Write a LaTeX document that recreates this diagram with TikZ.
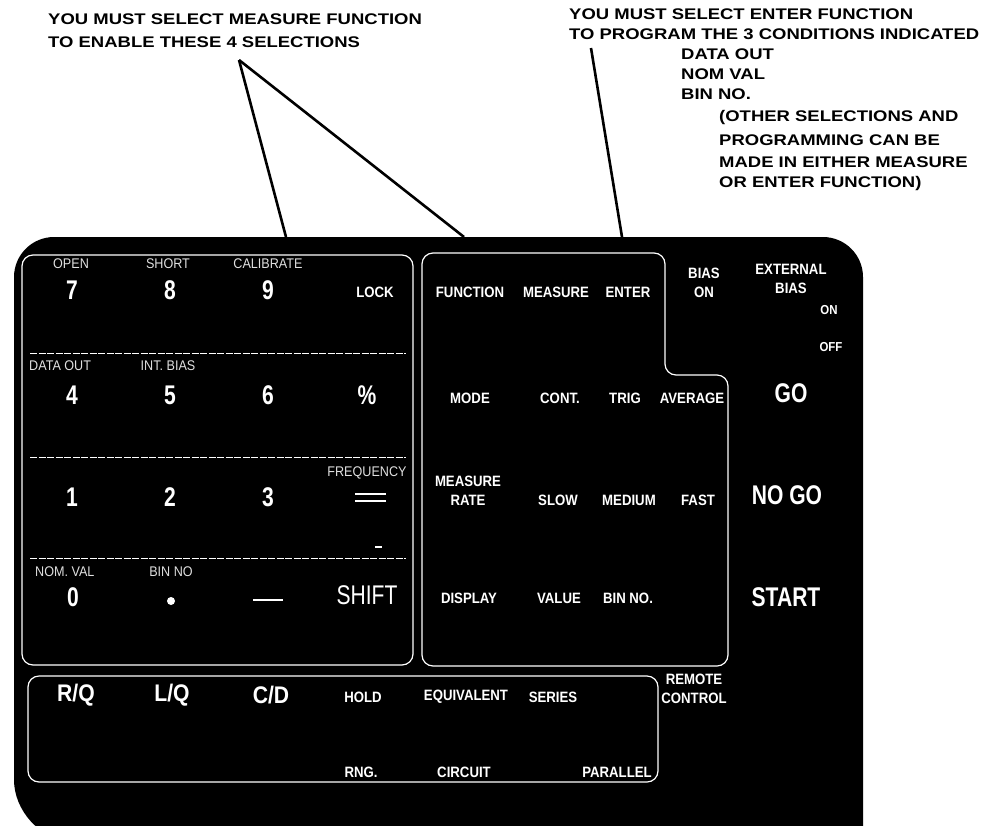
\documentclass[tikz,border=0pt]{standalone}
\usepackage{fontspec}
\setmainfont{Liberation Sans}
\newfontfamily\annfont[FakeStretch=1.2]{Liberation Sans}
\newfontfamily\cond[FakeStretch=0.88]{Liberation Sans}
\newfontfamily\condd[FakeStretch=0.78]{Liberation Sans}
\newfontfamily\condt[FakeStretch=0.9]{Liberation Sans}
\begin{document}
\begin{tikzpicture}[x=1pt,y=-1pt,
  ann/.style={font=\annfont\bfseries\fontsize{15.4}{18}\selectfont, anchor=west, inner sep=0},
  lbl/.style={text=white, font=\cond\bfseries\fontsize{15}{19}\selectfont, inner sep=0, align=center},
  sml/.style={text=white, font=\cond\bfseries\fontsize{13}{15}\selectfont, inner sep=0},
  big/.style={text=white, font=\condd\bfseries\fontsize{27}{28}\selectfont, inner sep=0},
  mid/.style={text=white, font=\cond\bfseries\fontsize{24}{26}\selectfont, inner sep=0},
  huge/.style={text=white, font=\condd\bfseries\fontsize{27}{28}\selectfont, inner sep=0},
  tiny/.style={text=white!88!black, font=\condt\fontsize{14}{15}\selectfont, inner sep=0},
  frame/.style={draw=white, line width=1.2pt, rounded corners=11},
  sep/.style={draw=white, line width=0.8pt, dash pattern=on 7pt off 1.5pt},
  pointer/.style={draw=black, line width=2.6pt}]
\useasboundingbox (0,0) rectangle (990,825);
\fill[white] (0,0) rectangle (990,825);
% black panel
\begin{scope}
\clip (0,0) rectangle (990,825);
\fill[black] (14,277) .. controls (14,255) and (32,237) .. (54,237) -- (823,237)
  .. controls (845,237) and (863,255) .. (863,277) -- (863,840) -- (70,840)
  .. controls (40,840) and (14,810) .. (14,780) -- cycle;
\end{scope}
% annotations
\node[ann] (a1) at (48,19) {YOU MUST SELECT MEASURE FUNCTION};
\node[ann] (a2) at (48,42) {TO ENABLE THESE 4 SELECTIONS};
\node[ann] (b1) at (569,14) {YOU MUST SELECT ENTER FUNCTION};
\node[ann] (b2) at (569,34) {TO PROGRAM THE 3 CONDITIONS INDICATED};
\node[ann] (b3) at (681,54) {DATA OUT};
\node[ann] (b4) at (681,74) {NOM VAL};
\node[ann] (b5) at (681,94) {BIN NO.};
\node[ann] (b6) at (719,118) {(OTHER SELECTIONS AND};
\node[ann] (b7) at (719,140) {PROGRAMMING CAN BE};
\node[ann] (b8) at (719,162) {MADE IN EITHER MEASURE};
\node[ann] (b9) at (719,184) {OR ENTER FUNCTION)};
\coordinate (apex) at (239,60);
\coordinate (keyTop) at (286,237);
\coordinate (funTop) at (464,237);
\coordinate (bstart) at (591,48);
\coordinate (enterTop) at (622,237);
\draw[pointer] (apex) -- (keyTop);
\draw[pointer] (apex) -- (funTop);
\draw[pointer] (bstart) -- (enterTop);
% frames
\draw[frame] (200,255) -- (413,255) -- (413,665) -- (22,665) -- (22,255) -- cycle;
\draw[frame] (500,253) -- (665,253) -- (665,375) -- (728,375) -- (728,666) -- (422,666) -- (422,253) -- cycle;
\draw[frame] (300,676) -- (658,676) -- (658,782) -- (28,782) -- (28,676) -- cycle;
\draw[sep] (30,353) -- (406,353);
\draw[sep] (30,457) -- (406,457);
\draw[sep] (30,558) -- (406,558);
% keypad
\node[tiny] (open) at (71,264) {OPEN};
\node[tiny] (short) at (168,264) {SHORT};
\node[tiny] (calib) at (268,264) {CALIBRATE};
\node[big] (k7) at (72,290) {7};
\node[big] (k8) at (170,290) {8};
\node[big] (k9) at (268,290) {9};
\node[lbl] (lock) at (375,292) {LOCK};
\node[tiny,anchor=west] (dout) at (29,366) {DATA OUT};
\node[tiny] (ibias) at (168,366) {INT. BIAS};
\node[big] (k4) at (72,395) {4};
\node[big] (k5) at (170,395) {5};
\node[big] (k6) at (268,395) {6};
\node[big] (kp) at (367,395) {\%};
\node[big] (k1) at (72,497) {1};
\node[big] (k2) at (170,497) {2};
\node[big] (k3) at (268,497) {3};
\node[tiny] (freq) at (367,473) {FREQUENCY};
\coordinate (eqL1) at (355,494); \coordinate (eqR1) at (386,494);
\coordinate (eqL2) at (355,501); \coordinate (eqR2) at (386,501);
\draw[white, line width=2.2pt] (eqL1) -- (eqR1);
\draw[white, line width=2.2pt] (eqL2) -- (eqR2);
\coordinate (mnL) at (375,547); \coordinate (mnR) at (382,547);
\draw[white, line width=1.5pt] (mnL) -- (mnR);
\node[tiny,anchor=west] (nom) at (35,572) {NOM. VAL};
\node[tiny] (binno) at (171,572) {BIN NO};
\node[big] (k0) at (73,597) {0};
\fill[white] (171,601) circle (4);
\coordinate (dashL) at (253,600); \coordinate (dashR) at (283,600);
\draw[white, line width=2.5pt] (dashL) -- (dashR);
\node[text=white, font=\condd\fontsize{27}{28}\selectfont, inner sep=0] (shift) at (367,595) {SHIFT};
% function panel
\node[lbl] (fun) at (470,292) {FUNCTION};
\node[lbl] (meas) at (556,292) {MEASURE};
\node[lbl] (ent) at (628,292) {ENTER};
\node[lbl] (mode) at (470,398) {MODE};
\node[lbl] (cont) at (560,398) {CONT.};
\node[lbl] (trig) at (625,398) {TRIG};
\node[lbl] (avg) at (692,398) {AVERAGE};
\node[lbl] (mrate) at (468,491) {MEASURE\\RATE};
\node[lbl] (slow) at (558,500) {SLOW};
\node[lbl] (med) at (629,500) {MEDIUM};
\node[lbl] (fast) at (698,500) {FAST};
\node[lbl] (disp) at (469,598) {DISPLAY};
\node[lbl] (val) at (559,598) {VALUE};
\node[lbl] (bin2) at (628,598) {BIN NO.};
% right column
\node[lbl] (bias) at (704,283) {BIAS\\ON};
\node[lbl] (ext) at (791,279) {EXTERNAL\\BIAS};
\node[sml] (on) at (829,310) {ON};
\node[sml] (off) at (831,347) {OFF};
\node[huge] (go) at (791,393) {GO};
\node[huge] (nogo) at (787,495) {NO GO};
\node[huge] (start) at (786,597) {START};
% bottom panel
\node[mid] (rq) at (76,695) {R/Q};
\node[mid] (lq) at (172,695) {L/Q};
\node[mid] (cd) at (271,695) {C/D};
\node[lbl] (hold) at (363,697) {HOLD};
\node[lbl] (equiv) at (466,697) {EQUIVALENT};
\node[lbl] (series) at (553,697) {SERIES};
\node[lbl] (rng) at (361,772) {RNG.};
\node[lbl] (circ) at (464,772) {CIRCUIT};
\node[lbl] (par) at (617,772) {PARALLEL};
\node[lbl] (remote) at (694,689) {REMOTE\\CONTROL};
\end{tikzpicture}
\end{document}
